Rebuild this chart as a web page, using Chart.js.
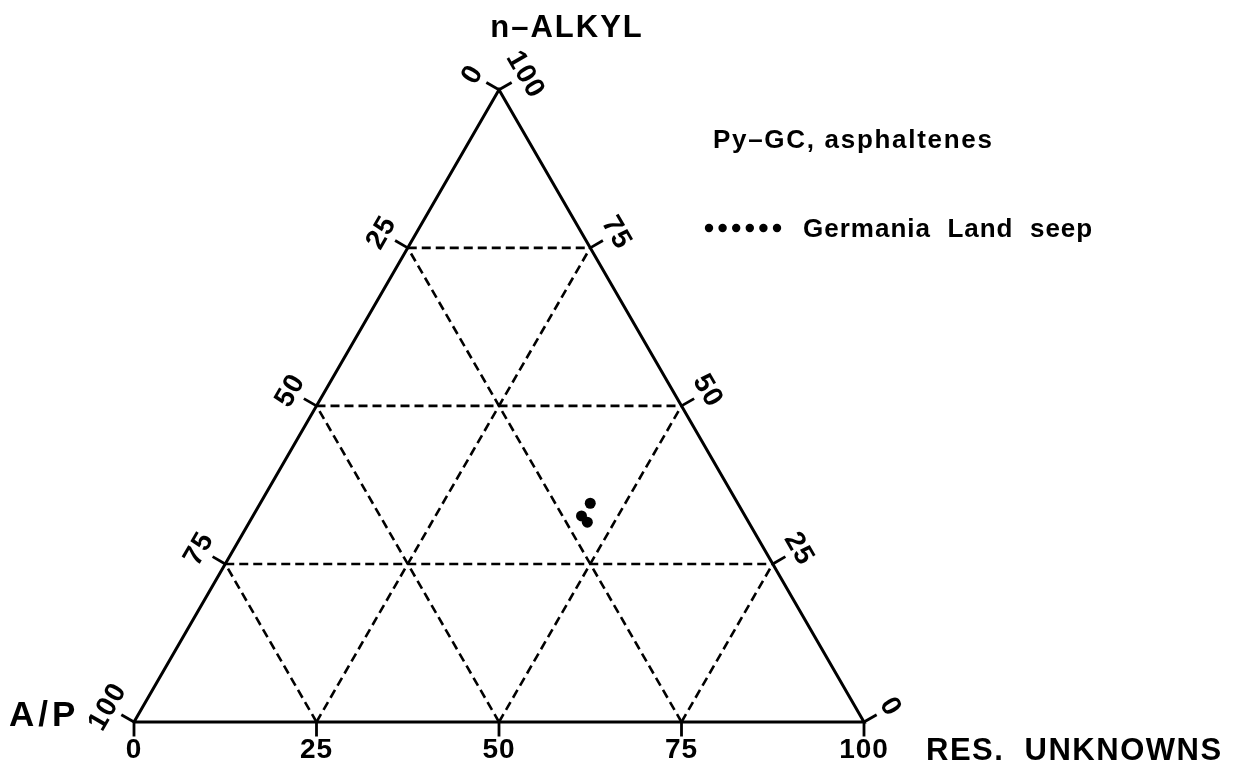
<!DOCTYPE html>
<html>
<head>
<meta charset="utf-8">
<script src="https://cdn.jsdelivr.net/npm/chart.js@4/dist/chart.umd.min.js"></script>
<style>
  html, body { margin: 0; padding: 0; background: #fff; }
  #wrap { width: 1247px; height: 770px; }
</style>
</head>
<body>
<div id="wrap"><canvas id="ternary"></canvas></div>
<script>
// Py-GC asphaltene composition, percent of each end member
const apValues = [20.2, 22.4, 22.1];
const resValues = [45.2, 45.0, 46.3];
const alkylValues = [34.6, 32.6, 31.6];

const tickValues = [0, 25, 50, 75, 100];
const gridValues = [25, 50, 75];

const seriesLabel = "Germania Land seep";
const plotTitle = "Py–GC, asphaltenes";

const H = Math.sqrt(3) / 2;
const UNIT = 7.3; // px per percent
const ORIGIN = { x: 134, y: 722 };
const TICK = 2; // tick length, percent units
const FONT = '"Liberation Sans", Arial, sans-serif';

// ternary (ap, res, alkyl) -> cartesian
function toXY(ap, res, alkyl) {
    return { x: res + alkyl / 2, y: alkyl * H };
}

function lineSet(points, dashed, width) {
    return {
        type: "scatter",
        data: points,
        showLine: true,
        borderColor: "#000",
        borderWidth: width,
        borderDash: dashed ? [9, 5] : [],
        pointRadius: 0,
        fill: false,
        tension: 0,
    };
}

const datasets = [];

// grid lines at 25 / 50 / 75 in the three directions
gridValues.forEach((v) => {
    datasets.push(lineSet([toXY(100 - v, 0, v), toXY(0, 100 - v, v)], true, 2.6));
    datasets.push(lineSet([toXY(100 - v, v, 0), toXY(0, v, 100 - v)], true, 2.6));
    datasets.push(lineSet([toXY(v, 100 - v, 0), toXY(v, 0, 100 - v)], true, 2.6));
});

// triangle frame
datasets.push(lineSet([toXY(100, 0, 0), toXY(0, 100, 0), toXY(0, 0, 100), toXY(100, 0, 0)], false, 3));

// tick marks on the three edges
tickValues.forEach((v) => {
    const l = toXY(v, 0, 100 - v);
    datasets.push(lineSet([l, { x: l.x - TICK * H, y: l.y + TICK / 2 }], false, 2.8));
    const r = toXY(0, 100 - v, v);
    datasets.push(lineSet([r, { x: r.x + TICK * H, y: r.y + TICK / 2 }], false, 2.8));
    const b = toXY(100 - v, v, 0);
    datasets.push(lineSet([b, { x: b.x, y: b.y - TICK }], false, 2.8));
});

// samples
datasets.push({
    type: "scatter",
    label: seriesLabel,
    data: apValues.map((ap, i) => toXY(ap, resValues[i], alkylValues[i])),
    pointRadius: 5.5,
    pointBackgroundColor: "#000",
    pointBorderWidth: 0,
    showLine: false,
});

const labelsPlugin = {
    id: "ternaryLabels",
    afterDatasetsDraw(chart) {
        const ctx = chart.ctx;
        const xs = chart.scales.x, ys = chart.scales.y;
        const px = (p) => ({ x: xs.getPixelForValue(p.x), y: ys.getPixelForValue(p.y) });
        ctx.save();
        ctx.fillStyle = "#000";
        ctx.textAlign = "center";
        ctx.textBaseline = "middle";
        ctx.font = "bold 28px " + FONT;
        ctx.letterSpacing = "1px";
        const rotText = (txt, x, y, ang) => {
            ctx.save();
            ctx.translate(x, y);
            ctx.rotate(ang);
            ctx.fillText(txt, 0, 0);
            ctx.restore();
        };
        const off = 30;
        tickValues.forEach((v) => {
            // A/P along the left edge
            const l = px(toXY(v, 0, 100 - v));
            rotText(String(v), l.x - off * H, l.y - off / 2, -Math.PI / 3);
            // n-ALKYL along the right edge
            const r = px(toXY(0, 100 - v, v));
            rotText(String(v), r.x + off * H, r.y - off / 2, Math.PI / 3);
            // RES. UNKNOWNS along the bottom
            const b = px(toXY(100 - v, v, 0));
            ctx.fillText(String(v), b.x, b.y + 28);
        });

        // axis names
        ctx.textBaseline = "alphabetic";
        ctx.font = "bold 31px " + FONT;
        ctx.letterSpacing = "2px";
        ctx.textAlign = "center";
        ctx.fillText("n–ALKYL", 567, 37);
        ctx.textAlign = "left";
        ctx.letterSpacing = "1.5px";
        ctx.fillText("RES.  UNKNOWNS", 926, 760);
        ctx.font = "bold 35px " + FONT;
        ctx.letterSpacing = "4px";
        ctx.fillText("A/P", 9, 726);

        // title and legend
        ctx.font = "bold 26px " + FONT;
        ctx.letterSpacing = "1.7px";
        ctx.fillText(plotTitle, 713, 148);
        for (let i = 0; i < 6; i++) {
            ctx.beginPath();
            ctx.arc(709 + i * 13.6, 228, 4.2, 0, Math.PI * 2);
            ctx.fill();
        }
        ctx.letterSpacing = "1px";
        ctx.fillText(seriesLabel.replace(/ /g, "  "), 803, 237);
        ctx.restore();
    },
};

new Chart(document.getElementById("ternary"), {
    type: "scatter",
    data: { datasets },
    options: {
        responsive: true,
        maintainAspectRatio: false,
        animation: false,
        layout: { padding: 0, autoPadding: false },
        plugins: { legend: { display: false }, tooltip: { enabled: false } },
        scales: {
            x: { display: false, min: -ORIGIN.x / UNIT, max: (1247 - ORIGIN.x) / UNIT },
            y: { display: false, min: -(770 - ORIGIN.y) / UNIT, max: ORIGIN.y / UNIT },
        },
    },
    plugins: [labelsPlugin],
});
</script>
</body>
</html>
